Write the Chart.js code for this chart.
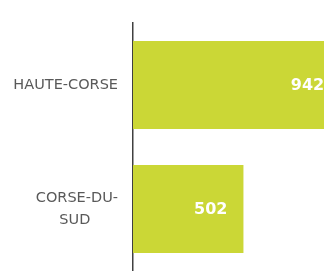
<!DOCTYPE html>
<html>
<head>
<meta charset="utf-8">
<script src="https://cdn.jsdelivr.net/npm/chart.js@4"></script>
<style>
  html, body { margin: 0; padding: 0; background: #fff; overflow: hidden; }
  #wrap { width: 324px; height: 271px; overflow: hidden; }
</style>
</head>
<body>
<div id="wrap"><canvas id="chart" width="353" height="271"></canvas></div>
<script>
// ── Data ─────────────────────────────────────────────
const departements = [['HAUTE-CORSE'], ['CORSE-DU-', 'SUD\u00a0\u00a0\u00a0\u00a0\u00a0\u00a0']];
const effectifs    = [942, 502];
const xMax         = 1000;

// ── Value labels drawn inside the bar end ────────────
const valueLabels = {
  id: 'valueLabels',
  afterDatasetsDraw(chart) {
    const ctx = chart.ctx;
    const meta = chart.getDatasetMeta(0);
    ctx.save();
    ctx.font = 'bold 16px "DejaVu Sans", sans-serif';
    ctx.fillStyle = '#ffffff';
    ctx.textAlign = 'right';
    ctx.textBaseline = 'middle';
    meta.data.forEach((bar, i) => {
      ctx.fillText(String(effectifs[i]), bar.x - 16, bar.y + 1);
    });
    ctx.restore();
  }
};

// ── Bar Chart ────────────────────────────────────────
new Chart(document.getElementById('chart'), {
  type: 'bar',
  data: {
    labels: departements,
    datasets: [{
      data: effectifs,
      backgroundColor: '#cbd736',
      borderWidth: 0,
      barPercentage: 0.71,
      categoryPercentage: 1
    }]
  },
  options: {
    indexAxis: 'y',
    responsive: false,
    animation: false,
    layout: { padding: { top: 23, right: 0, bottom: 0, left: 0 } },
    plugins: { legend: { display: false }, tooltip: { enabled: false } },
    scales: {
      x: { display: false, min: 0, max: xMax },
      y: {
        afterFit(axis) {
          axis.width = 133;
          axis.paddingTop = 0;
          axis.paddingBottom = 0;
        },
        grid: { display: false, drawTicks: false },
        border: { display: true, color: '#404040', width: 1.5 },
        ticks: {
          color: '#595959',
          padding: 15,
          font: { family: '"DejaVu Sans", sans-serif', size: 14.5, lineHeight: 1.5 }
        }
      }
    }
  },
  plugins: [valueLabels]
});
</script>
</body>
</html>
